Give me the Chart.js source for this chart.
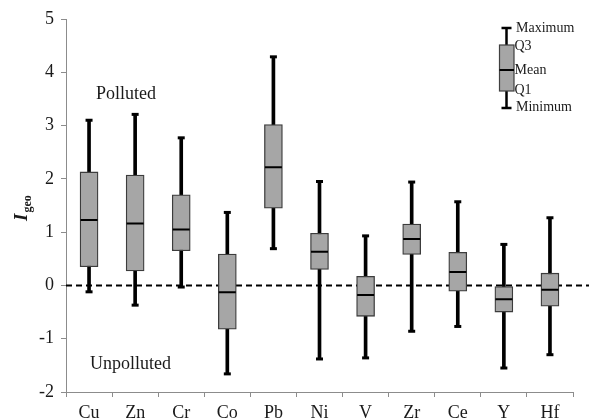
<!DOCTYPE html>
<html>
<head>
<meta charset="utf-8">
<script src="https://cdn.jsdelivr.net/npm/chart.js@4"></script>
<style>
html,body{margin:0;padding:0;background:#fff;}
#wrap{width:590px;height:419px;position:relative;}
</style>
</head>
<body>
<div id="wrap"><canvas id="c" width="590" height="419"></canvas></div>
<script>
const categories = ["Cu","Zn","Cr","Co","Pb","Ni","V","Zr","Ce","Y","Hf"];
const maxVals  = [3.10, 3.21, 2.77, 1.37, 4.29, 1.95, 0.93, 1.94, 1.57, 0.77, 1.27];
const q3Vals   = [2.13, 2.07, 1.70, 0.59, 3.02, 0.98, 0.17, 1.15, 0.62, -0.02, 0.23];
const meanVals = [1.23, 1.16, 1.05, -0.13, 2.22, 0.63, -0.18, 0.87, 0.25, -0.26, -0.08];
const q1Vals   = [0.35, 0.27, 0.65, -0.82, 1.45, 0.30, -0.58, 0.58, -0.11, -0.50, -0.39];
const minVals  = [-0.12, -0.37, -0.03, -1.66, 0.69, -1.38, -1.36, -0.86, -0.77, -1.55, -1.30];
const yTicks   = [-2, -1, 0, 1, 2, 3, 4, 5];
const yMin = -2, yMax = 5;
const threshold = 0;

const SERIF = "'Liberation Serif', 'Times New Roman', serif";
const AXIS_GRAY = "#8c8c8c";

const whiskerData = categories.map((c, i) => [minVals[i], maxVals[i]]);
const boxData = categories.map((c, i) => [q1Vals[i], q3Vals[i]]);

const extras = {
  id: 'extras',
  beforeDatasetsDraw(chart) {
    const ctx = chart.ctx, y = chart.scales.y, a = chart.chartArea;
    const py = y.getPixelForValue(threshold);
    ctx.save();
    ctx.strokeStyle = '#000';
    ctx.lineWidth = 2;
    ctx.setLineDash([6, 4]);
    ctx.beginPath();
    ctx.moveTo(a.left, py);
    ctx.lineTo(a.right + 16, py);
    ctx.stroke();
    ctx.restore();
  },
  afterDraw(chart) {
    const ctx = chart.ctx, y = chart.scales.y;
    ctx.save();
    ctx.fillStyle = '#1a1a1a';
    ctx.font = "18px " + SERIF;
    ctx.textBaseline = 'middle';
    ctx.textAlign = 'left';
    ctx.fillText('Polluted', 96, y.getPixelForValue(3.59));
    ctx.fillText('Unpolluted', 90, y.getPixelForValue(-1.48));

    // y-axis title I_geo
    ctx.save();
    ctx.translate(27, 221);
    ctx.rotate(-Math.PI / 2);
    ctx.textBaseline = 'alphabetic';
    ctx.font = "italic bold 19px " + SERIF;
    ctx.fillText('I', 0, 0);
    const w = ctx.measureText('I').width;
    ctx.font = "bold 12px " + SERIF;
    ctx.fillText('geo', w + 1, 4);
    ctx.restore();

    // legend key
    const cx = 506.5;
    ctx.strokeStyle = '#000';
    ctx.lineWidth = 2.5;
    ctx.beginPath();
    ctx.moveTo(cx, 28); ctx.lineTo(cx, 108);
    ctx.moveTo(cx - 5, 28); ctx.lineTo(cx + 5, 28);
    ctx.moveTo(cx - 5, 108); ctx.lineTo(cx + 5, 108);
    ctx.stroke();
    ctx.fillStyle = '#a6a6a6';
    ctx.fillRect(499.5, 45, 14.5, 46);
    ctx.strokeStyle = '#404040';
    ctx.lineWidth = 1.2;
    ctx.strokeRect(499.5, 45, 14.5, 46);
    ctx.strokeStyle = '#000';
    ctx.lineWidth = 2;
    ctx.beginPath();
    ctx.moveTo(499.5, 70); ctx.lineTo(514, 70);
    ctx.stroke();
    ctx.fillStyle = '#1a1a1a';
    ctx.font = "14px " + SERIF;
    ctx.textBaseline = 'middle';
    ctx.fillText('Maximum', 516, 28);
    ctx.fillText('Q3', 514.5, 46);
    ctx.fillText('Mean', 514.5, 70);
    ctx.fillText('Q1', 514.5, 90);
    ctx.fillText('Minimum', 516, 107);
    ctx.restore();
  }
};

new Chart(document.getElementById('c'), {
  type: 'bar',
  data: {
    labels: categories,
    datasets: [
      { type: 'bar', label: 'whisker', data: whiskerData, grouped: false, barThickness: 3,
        backgroundColor: '#000', borderWidth: 0, order: 4 },
      { type: 'bar', label: 'box', data: boxData, grouped: false, barThickness: 18,
        backgroundColor: '#a6a6a6', borderColor: '#3c3c3c', borderWidth: 1.3, borderSkipped: false, order: 3 },
      { type: 'line', label: 'max', data: maxVals, showLine: false, pointStyle: 'line',
        pointRadius: 3.5, pointBorderWidth: 3, borderColor: '#000', backgroundColor: '#000', order: 1 },
      { type: 'line', label: 'min', data: minVals, showLine: false, pointStyle: 'line',
        pointRadius: 3.5, pointBorderWidth: 3, borderColor: '#000', backgroundColor: '#000', order: 1 },
      { type: 'line', label: 'mean', data: meanVals, showLine: false, pointStyle: 'line',
        pointRadius: 8.5, pointBorderWidth: 2, borderColor: '#000', backgroundColor: '#000', order: 1 }
    ]
  },
  options: {
    responsive: false,
    animation: false,
    events: [],
    layout: { padding: { top: 19, right: 17, left: 0, bottom: 0 } },
    plugins: { legend: { display: false }, tooltip: { enabled: false } },
    scales: {
      x: {
        offset: true,
        grid: { offset: true, drawOnChartArea: false, drawTicks: true, tickLength: 5, color: AXIS_GRAY },
        border: { color: AXIS_GRAY, width: 1 },
        ticks: { color: '#1a1a1a', font: { family: SERIF, size: 18 }, padding: 5, maxRotation: 0 },
        afterFit(s) { s.height = 27; }
      },
      y: {
        min: yMin, max: yMax,
        afterBuildTicks(s) { s.ticks = yTicks.map(v => ({ value: v })); },
        grid: { drawOnChartArea: false, drawTicks: true, tickLength: 5, color: AXIS_GRAY },
        border: { color: AXIS_GRAY, width: 1 },
        ticks: { color: '#1a1a1a', font: { family: SERIF, size: 18 }, padding: 7 },
        afterFit(s) { s.width = 66; }
      }
    }
  },
  plugins: [extras]
});
</script>
</body>
</html>
